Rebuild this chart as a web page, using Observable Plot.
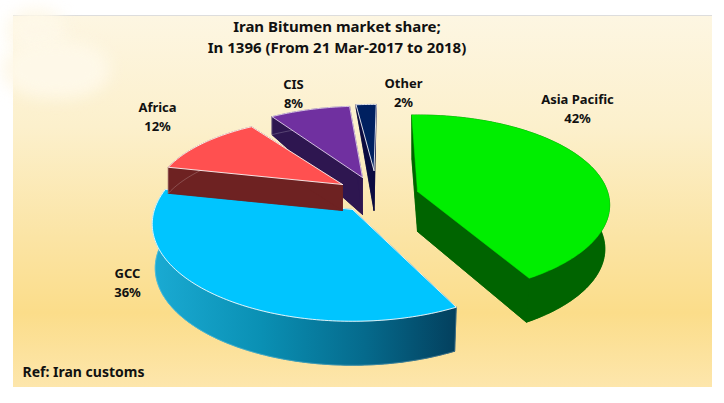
<!DOCTYPE html>
<html><head><meta charset="utf-8">
<script src="https://cdn.jsdelivr.net/npm/d3@7"></script>
<script src="https://cdn.jsdelivr.net/npm/@observablehq/plot@0.6"></script>
<style>
html,body{margin:0;padding:0;background:#fff;}
#wrap{position:relative;width:724px;height:403px;overflow:hidden;}
#panel{position:absolute;left:13px;top:15px;width:699px;height:372px;
 background:linear-gradient(180deg,#fdf6e2 0%,#fcf0cc 30%,#fbe4a4 60%,#fbdd8a 80%,#fde6ac 100%);
 border-top:1px solid #ddd;box-sizing:border-box;}
.blob{position:absolute;background:#fef8e8;filter:blur(8px);}
#plot{position:absolute;left:0;top:0;}
svg{background:transparent!important;font-family:"Noto Sans",sans-serif;}
</style></head><body>
<div id="wrap"><div id="panel"></div>
<div class="blob" style="left:6px;top:8px;width:60px;height:45px;border-radius:50%"></div>
<div class="blob" style="left:2px;top:40px;width:108px;height:58px;border-radius:45%"></div>
<div id="plot"></div></div>
<script>
const sliceNames = ["Asia Pacific","GCC","Africa","CIS","Other"];
const sharePercents = [42,36,12,8,2];
const titleLines = ["Iran Bitumen market share;","In 1396 (From 21 Mar-2017 to 2018)"];
const refNote = "Ref: Iran customs";

// per-slice drawing geometry (the slices were exploded by hand in the source picture)
const shape = {
 "Asia Pacific":{cx:417,cy:191,R:190,Ry:88,k:.15,t:40,tRim:44,bx:.975,from:-2,top:"#00ee00",side:"#006400",edge:"none"},
 "GCC":{cx:352,cy:209,R:198,Ry:95,k:.15,t:44,tRim:44,bx:.985,from:153,top:"#00c5ff",side:"url(#gccSide)",edge:"#fff"},
 "Africa":{cx:342,cy:184,R:185,Ry:78,k:.15,t:26,tRim:26,bx:1,from:283.2,top:"#ff5050",side:"#6e2222",edge:"#fff"},
 "CIS":{cx:362,cy:177,R:185,Ry:82,k:.15,t:37,tRim:18,bx:1,from:326.6,top:"#7030a0",side:"#2e1650",edge:"#e8d8f0"},
 "Other":{cx:373.5,cy:170,R:185,Ry:76,k:.15,t:40,tRim:3,bx:1,from:353.6,top:"#002060",side:"#0b0b40",edge:"#fff"}
};
const labelAt = {
 "Asia Pacific":[577,99],"GCC":[127,273],"Africa":[157,107],"CIS":[293,84],"Other":[403,83]
};
const drawOrder = ["Other","CIS","GCC","Africa","Asia Pacific"];

function slicePaths(name){
 const g = shape[name], span = sharePercents[sliceNames.indexOf(name)]*3.6;
 const n = Math.max(4,Math.round(span)), rim=[];
 for(let i=0;i<=n;i++){
  const th=(g.from+span*i/n)*Math.PI/180, u=Math.sin(th), v=-Math.cos(th), s=1/(1-g.k*v);
  rim.push([g.cx+g.R*u*s, g.cy+g.Ry*v*s]);
 }
 const low = rim.map(([x,y])=>[g.cx+(x-g.cx)*g.bx, y+g.tRim]);
 const c=[g.cx,g.cy], cl=[g.cx,g.cy+g.t];
 return {
  top:[c,...rim,c],
  faces:[
   [cl,...low,cl],
   [...rim,...low.slice().reverse(),rim[0]],
   [c,rim[0],low[0],cl,c],
   [c,rim[n],low[n],cl,c]
  ]
 };
}
const poly=(pts,o)=>Plot.line(pts,{x:d=>d[0],y:d=>d[1],...o});
const marks=[
 ()=>{const s=d3.create("svg:defs");
  const lg=s.append("linearGradient").attr("id","gccSide").attr("gradientUnits","userSpaceOnUse")
   .attr("x1",155).attr("x2",455).attr("y1",0).attr("y2",0);
  [[0,"#1aaad2"],[.35,"#0a90b4"],[.7,"#056a8c"],[1,"#03405e"]].forEach(([o,c])=>lg.append("stop").attr("offset",o).attr("stop-color",c));
  return s.node();}
];
for(const name of drawOrder){
 const g=shape[name], p=slicePaths(name);
 for(const f of p.faces) marks.push(poly(f,{fill:g.side,stroke:g.side,strokeWidth:.6}));
 if(g.edge!=="none"){
  marks.push(poly(p.faces[1],{fill:"none",stroke:"#fff",strokeOpacity:.25,strokeWidth:.8}));
 }
 marks.push(poly(p.top,{fill:g.top,stroke:g.edge==="none"?g.top:g.edge,strokeWidth:g.edge==="none"?.5:1,strokeOpacity:g.edge==="none"?1:.85}));
}
const labelRows=sliceNames.flatMap((n,i)=>[
 {t:n,x:labelAt[n][0],y:labelAt[n][1]},
 {t:sharePercents[i]+"%",x:labelAt[n][0],y:labelAt[n][1]+19.5}
]);
marks.push(Plot.text(labelRows,{x:"x",y:"y",text:"t",fontSize:13,fontWeight:700,fill:"#111",textAnchor:"middle"}));
marks.push(Plot.text(titleLines.map((t,i)=>({t,y:27+21*i})),{x:()=>336.5,y:"y",text:"t",fontSize:15,fontWeight:700,fill:"#111",textAnchor:"middle"}));
marks.push(Plot.text([refNote],{x:()=>22,y:()=>372,text:d=>d,fontSize:14,fontWeight:700,fill:"#111",textAnchor:"start"}));

document.getElementById("plot").append(Plot.plot({
 width:724,height:403,margin:0,
 x:{domain:[0,724],range:[0,724],axis:null},
 y:{domain:[0,403],range:[0,403],axis:null},
 marks
}));
</script></body></html>
